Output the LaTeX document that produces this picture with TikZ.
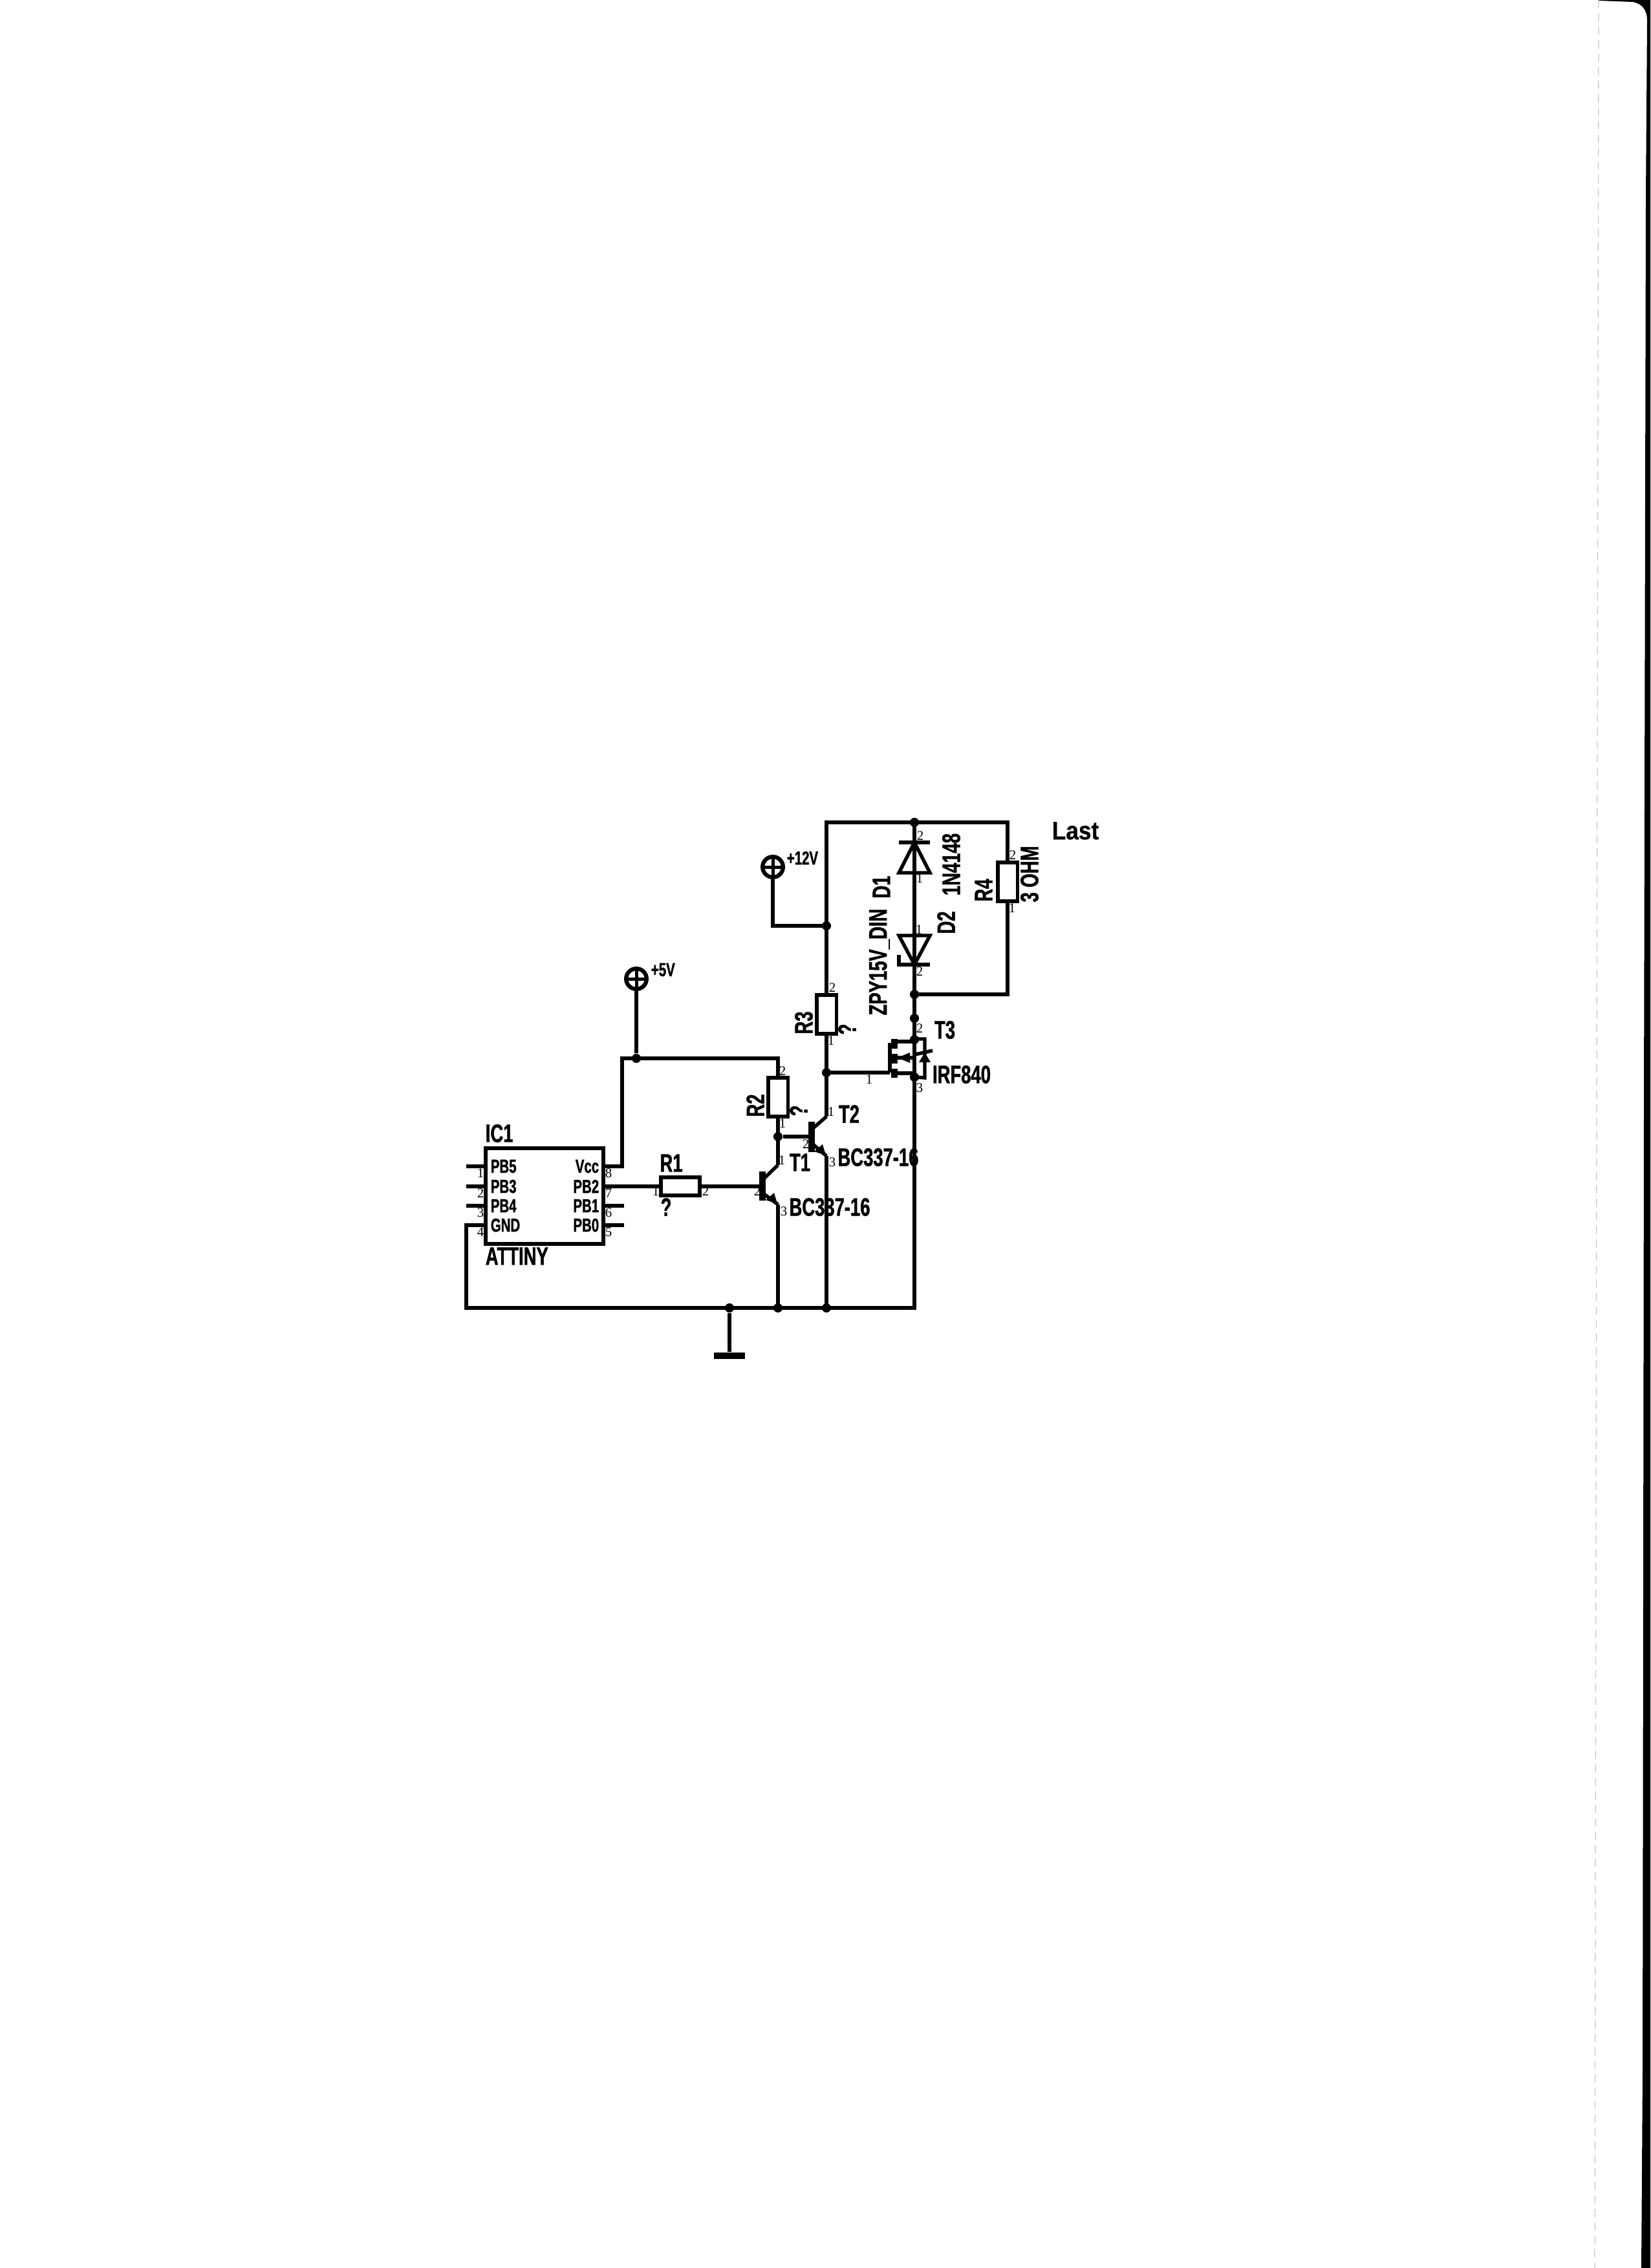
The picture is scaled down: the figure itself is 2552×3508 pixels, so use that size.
\documentclass[tikz,border=0pt]{standalone}
\usepackage{fontspec}
\newfontfamily\labfont[FakeStretch=0.7,FakeBold=1.2]{Liberation Sans Bold}
\newfontfamily\lastfont[FakeStretch=0.9,FakeBold=0.6]{Liberation Sans Bold}
\newfontfamily\pinfont{Liberation Serif}
\usetikzlibrary{calc}
\tikzset{
	wire/.style={line width=1.3pt,line join=miter},
	res/.style={draw,line width=1.4pt,fill=white,inner sep=0pt,minimum width=7.4pt,minimum height=14.4pt},
	resh/.style={res,minimum width=14.4pt,minimum height=6.9pt},
	dot/.style={circle,fill=black,inner sep=0pt,minimum size=3.4pt},
	lab/.style={inner sep=0pt,font=\labfont\fontsize{9.4pt}{9.4pt}\selectfont},
	lablast/.style={inner sep=0pt,font=\lastfont\fontsize{9.4pt}{9.4pt}\selectfont},
	sml/.style={inner sep=0pt,font=\labfont\fontsize{7pt}{7pt}\selectfont},
	pin/.style={inner sep=0pt,font=\pinfont\fontsize{5pt}{5pt}\selectfont},
	supply/.style={circle,draw,line width=1.5pt,inner sep=0pt,minimum size=7.6pt,
		path picture={\draw[line width=1.2pt] (path picture bounding box.west)--(path picture bounding box.east);
			\draw[line width=1.2pt] (path picture bounding box.north)--(path picture bounding box.south);}}
}
\begin{document}
\begin{tikzpicture}[x=0.24pt,y=-0.24pt,line cap=butt,>=stealth]
	\useasboundingbox (0,0) rectangle (2552,3508);
	%--------- page edge
	\fill[black] (2472,0)--(2472,1)--(2525,3) .. controls (2540,6) and (2547,16) .. (2547,32)--(2545,300)--(2542,1700)--(2540,3200)--(2538,3508)--(2552,3508)--(2552,0)--cycle;
	\draw[gray!45,line width=0.3pt,dash pattern=on 3pt off 2pt] (2472,0)--(2469,1700)--(2466,3508);
	%--------- IC1
	\node[draw,line width=1.4pt,inner sep=0pt,minimum width=43.8pt,minimum height=35.6pt] (ic) at (842,1850) {};
	\node[lab,anchor=west] (icname) at (750,1753) {IC1};
	\node[lab,anchor=west] (ictype) at (750,1943) {ATTINY};
	\foreach \n/\t/\y/\k in {a/PB5/1804/1,b/PB3/1835/2,c/PB4/1865/3,d/GND/1895/4}{
		\node[sml,anchor=west] (in\n) at (758,\y) {\t};
		\coordinate (pl\n) at (ic.west |- 0,\y);
		\coordinate (sl\n) at (721,\y);
		\node[pin] (nl\n) at (743,\y+11) {\k};
	}
	\foreach \n/\t/\y/\k in {a/Vcc/1804/8,b/PB2/1835/7,c/PB1/1865/6,d/PB0/1895/5}{
		\node[sml,anchor=east] (ou\n) at (927,\y) {\t};
		\coordinate (pr\n) at (ic.east |- 0,\y);
		\coordinate (sr\n) at (965,\y);
		\node[pin] (nr\n) at (941,\y+11) {\k};
	}
	\draw[wire] (pla)--(sla) (plb)--(slb) (plc)--(slc) (prc)--(src) (prd)--(srd);
	%--------- fixed points
	\coordinate (gl) at (721,2023);
	\node[dot] (jg) at (1128,2023) {};
	\node[dot] (j1) at (1203,2023) {};
	\node[dot] (j2) at (1278,2023) {};
	\coordinate (gr) at (1414,2023);
	\node[dot] (j5) at (984,1637) {};
	\coordinate (v5) at (962,1637);
	\coordinate (vr) at (962,1804);
	\coordinate (r2t) at (1203,1637);
	\node[dot] (jb) at (1203,1758) {};
	\node[dot] (j12) at (1278,1432) {};
	\coordinate (w12) at (1195,1432);
	\coordinate (tl) at (1278,1272);
	\node[dot] (jt) at (1414,1272) {};
	\coordinate (tr) at (1558,1272);
	\node[dot] (jd) at (1414,1538) {};
	\coordinate (br) at (1558,1538);
	\node[dot] (js) at (1414,1575) {};
	\node[dot] (jq) at (1278,1659) {};
	%--------- resistors
	\node[resh] (R1) at (1052,1835) {};
	\node[res] (R2) at (1203,1697) {};
	\node[res] (R3) at (1278,1569) {};
	\node[res] (R4) at (1558,1364) {};
	\node[lab] (R1n) at (1038,1799) {R1};
	\node[lab] (R1v) at (1030,1867) {?};
	\node[lab,rotate=90] (R2n) at (1168,1710) {R2};
	\node[lab,rotate=90] (R2v) at (1235,1718) {?};
	\node[lab,rotate=90] (R3n) at (1243,1582) {R3};
	\node[lab,rotate=90] (R3v) at (1310,1592) {?};
	\node[lab,rotate=90] (R4n) at (1521,1377) {R4};
	\node[lab,rotate=90] (R4v) at (1592,1352) {3 OHM};
	%--------- T1
	\coordinate (b1) at (1179,1835);
	\coordinate (c1) at (1203,1802);
	\coordinate (e1) at (1203,1863);
	\draw[line width=2.4pt] (1179,1812)--(1179,1857);
	\draw[wire] (1179,1825)--(c1);
	\draw[wire] (1179,1845)--(e1);
	\fill (1202,1862)--(1197,1845)--(1184,1856)--cycle;
	\node[lab] (T1n) at (1237,1798) {T1};
	\node[lab] (T1t) at (1283,1867) {BC337-16};
	%--------- T2
	\coordinate (b2) at (1255,1758);
	\coordinate (c2) at (1278,1727);
	\coordinate (e2) at (1278,1788);
	\draw[line width=2.4pt] (1255,1735)--(1255,1782);
	\draw[wire] (1255,1747)--(c2);
	\draw[wire] (1255,1768)--(e2);
	\fill (1277,1787)--(1272,1770)--(1259,1781)--cycle;
	\node[lab] (T2n) at (1313,1723) {T2};
	\node[lab] (T2t) at (1358,1790) {BC337-16};
	%--------- T3
	\coordinate (g3) at (1376,1659);
	\node[dot] (d3) at (1414,1608) {};
	\node[dot] (s3) at (1414,1666) {};
	\draw[wire] (1376,1613)--(g3);
	\draw[line width=2.2pt] (1383,1607)--(1383,1622) (1383,1630)--(1383,1645) (1383,1653)--(1383,1667);
	\draw[wire] (1383,1611)--(1414,1611) (1383,1660)--(1414,1660) (1383,1636)--(1414,1636)--(1414,1660);
	\fill (1388,1636)--(1407,1628)--(1407,1644)--cycle;
	\draw[wire] (d3.center)--(1414,1607)--(1430,1607)--(1430,1667)--(s3.center);
	\fill (1430,1628)--(1421,1643)--(1439,1643)--cycle;
	\draw[wire] (1415,1631)--(1442,1625);
	\node[lab] (T3n) at (1461,1593) {T3};
	\node[lab] (T3t) at (1487,1662) {IRF840};
	%--------- D1, D2
	\draw[wire] (1390,1303)--(1438,1303);
	\draw[wire] (1414,1303)--(1438,1350)--(1390,1350)--cycle;
	\draw[wire] (1390,1447)--(1438,1447)--(1414,1492)--cycle;
	\draw[wire] (1390,1477)--(1390,1492)--(1438,1492);
	\node[lab,rotate=90] (D1n) at (1363,1372) {D1};
	\node[lab,rotate=90] (D2n) at (1463,1427) {D2};
	\node[lab,rotate=90] (D1t) at (1471,1337) {1N4148};
	\node[lab,rotate=90] (D2t) at (1360,1488) {ZPY15V\_DIN};
	%--------- supplies
	\node[supply] (p5) at (984,1514) {};
	\node[sml,anchor=west] (p5n) at (1006,1500) {+5V};
	\node[supply] (p12) at (1195,1341) {};
	\node[sml,anchor=west] (p12n) at (1216,1327) {+12V};
	\node[lablast] (last) at (1663,1285) {Last};
	%--------- ground
	\node[fill=black,inner sep=0pt,minimum width=11.3pt,minimum height=2.4pt] (gnd) at (1128,2097) {};
	%--------- wires
	\draw[wire] (pld)--(sld)--(gl)--(gr)--(js.center)--(jt.center);
	\draw[wire] (jg)--(gnd);
	\draw[wire] (pra)--(vr)--(v5)--(r2t)--(R2.north);
	\draw[wire] (j5)--(p5);
	\draw[wire] (prb)--(R1.west);
	\draw[wire] (R1.east)--(b1);
	\draw[wire] (R2.south)--(jb.center)--(c1);
	\draw[wire] (jb)--(b2);
	\draw[wire] (e1)--(j1.center);
	\draw[wire] (e2)--(j2.center);
	\draw[wire] (c2)--(R3.south);
	\draw[wire] (R3.north)--(tl)--(tr)--(R4.north);
	\draw[wire] (R4.south)--(br)--(jd.center);
	\draw[wire] (p12)--(w12)--(j12.center);
	\draw[wire] (jq.center)--(g3);
	%--------- pin numbers
	\node[pin] (n11) at (1014,1843) {1};
	\node[pin] (n12) at (1091,1843) {2};
	\node[pin] (n21) at (1209,1795) {1};
	\node[pin] (n22) at (1171,1843) {2};
	\node[pin] (n23) at (1212,1874) {3};
	\node[pin] (n31) at (1285,1720) {1};
	\node[pin] (n32) at (1246,1770) {2};
	\node[pin] (n33) at (1287,1798) {3};
	\node[pin] (n41) at (1210,1738) {1};
	\node[pin] (n42) at (1210,1657) {2};
	\node[pin] (n51) at (1285,1610) {1};
	\node[pin] (n52) at (1287,1528) {2};
	\node[pin] (n61) at (1344,1670) {1};
	\node[pin] (n62) at (1422,1591) {2};
	\node[pin] (n63) at (1422,1683) {3};
	\node[pin] (n71) at (1422,1359) {1};
	\node[pin] (n72) at (1423,1293) {2};
	\node[pin] (n81) at (1421,1438) {1};
	\node[pin] (n82) at (1422,1503) {2};
	\node[pin] (n91) at (1565,1405) {1};
	\node[pin] (n92) at (1566,1323) {2};
\end{tikzpicture}
\end{document}
